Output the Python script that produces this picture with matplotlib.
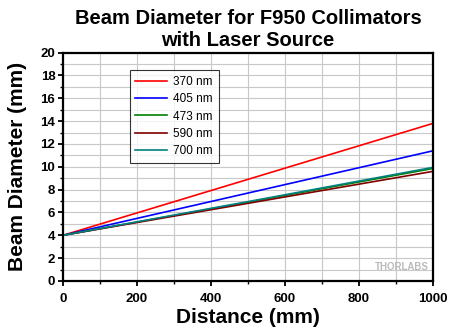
import numpy as np
import matplotlib
matplotlib.use('Agg')
from matplotlib import pyplot as plt
from matplotlib.ticker import MultipleLocator

plt.rcParams['font.family'] = ['Liberation Sans', 'DejaVu Sans']

# distances (mm) and beam diameters (mm)
distance = [0, 500, 1000]
d370 = [4.0, 8.9, 13.8]
d405 = [4.0, 7.7, 11.4]
d473 = [4.0, 6.9, 9.85]
d590 = [4.0, 6.8, 9.6]
d700 = [4.0, 6.95, 9.95]

labels = ['370 nm', '405 nm', '473 nm', '590 nm', '700 nm']
colors = ['#ff0000', '#0000ff', '#008000', '#800000', '#008080']

fig = plt.figure(figsize=(4.5, 3.29), dpi=100)
ax = fig.add_axes([0.14, 0.146, 0.822, 0.694])

for ys, lab, c in zip([d370, d405, d473, d590, d700], labels, colors):
    ax.plot(distance, ys, color=c, lw=1.2, label=lab)

ax.set_xlim(0, 1000)
ax.set_ylim(0, 20)
ax.xaxis.set_major_locator(MultipleLocator(200))
ax.xaxis.set_minor_locator(MultipleLocator(100))
ax.yaxis.set_major_locator(MultipleLocator(2))
ax.yaxis.set_minor_locator(MultipleLocator(1))
ax.grid(which='both', color='#c8c8c8', lw=0.8)
ax.set_axisbelow(True)

for s in ax.spines.values():
    s.set_linewidth(1.6)
ax.tick_params(which='major', length=3.5, width=1.3, labelsize=9.5, pad=2)
ax.tick_params(axis='x', which='major', pad=5)
ax.tick_params(which='minor', length=2.5, width=1.0)
for t in ax.get_xticklabels() + ax.get_yticklabels():
    t.set_fontweight('bold')

ax.set_xlabel('Distance (mm)', fontsize=15, fontweight='bold', labelpad=2)
ax.set_ylabel('Beam Diameter (mm)', fontsize=15, fontweight='bold', labelpad=10)
ax.set_title('Beam Diameter for F950 Collimators\nwith Laser Source',
             fontsize=14.5, fontweight='bold', pad=5, linespacing=1.15)

leg = ax.legend(loc='upper left', bbox_to_anchor=(0.18, 0.924), fontsize=8.5,
                frameon=True, fancybox=False, edgecolor='black',
                handlelength=2.7, handletextpad=0.5, borderpad=0.5,
                labelspacing=0.45, borderaxespad=0)
leg.get_frame().set_linewidth(0.8)

ax.text(0.99, 0.04, 'THORLABS', transform=ax.transAxes, ha='right',
        va='bottom', fontsize=7, fontweight='bold', color='#bbbbbb')

fig.savefig('out.png', dpi=100)
